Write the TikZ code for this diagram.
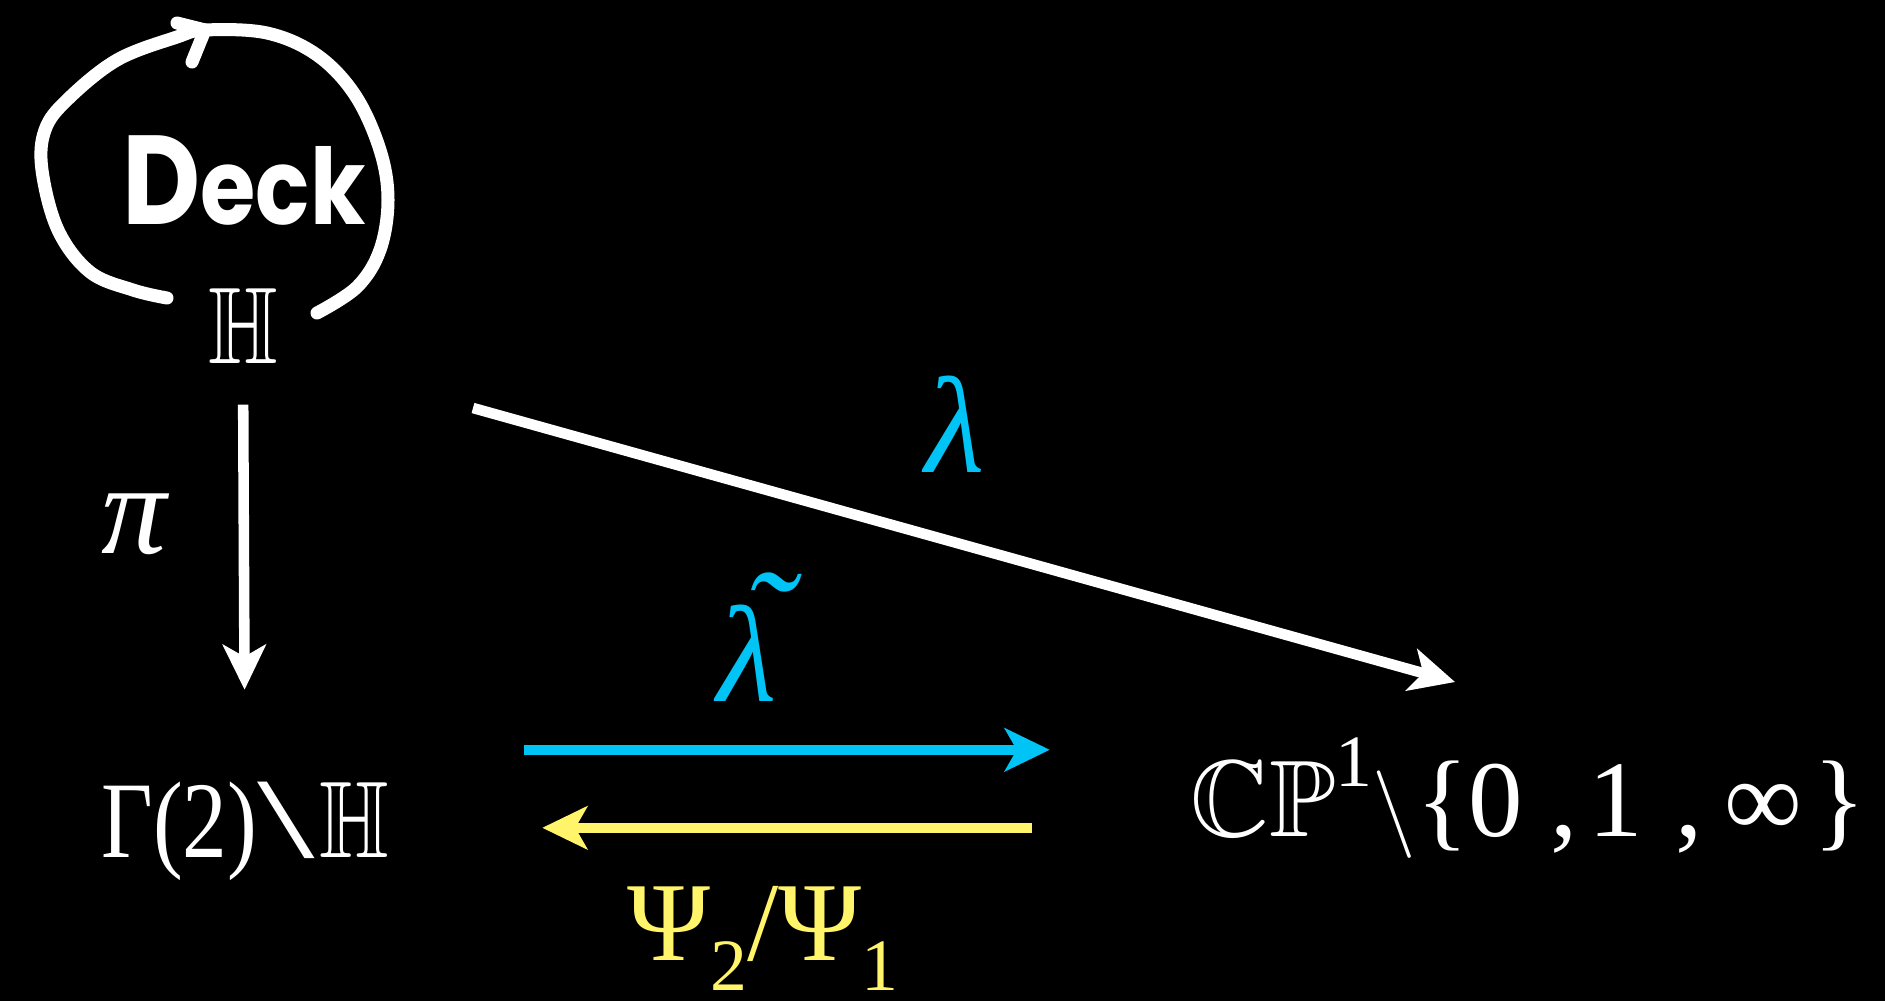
\documentclass[tikz,border=0pt]{standalone}
\usepackage{fontspec}
\usepackage{amssymb}
\usepackage{graphicx}
\setmainfont{Liberation Serif}
\newfontfamily\deckfont{Poppins}
\usetikzlibrary{arrows.meta, calc}

\definecolor{lamcyan}{HTML}{00C4F5}
\definecolor{psiyellow}{HTML}{FFF46A}
\newcommand{\bbH}{\scalebox{0.82}[1]{$\mathbb{H}$}}
\newcommand{\tlam}{\ooalign{λ\cr\hidewidth\kern0.3em\raisebox{0.2em}{\scalebox{1.1}{˜}}\hidewidth\cr}}
\newcommand{\smalldigit}[1]{\raisebox{-0.26em}{\fontsize{21}{21}\selectfont #1}}

\begin{document}
\begin{tikzpicture}[
    space/.style={inner sep=0pt, anchor=base, text=white, font=\fontsize{31}{31}\selectfont},
    maplabel/.style={inner sep=0pt, anchor=base, font=\fontsize{32}{32}\selectfont},
    greeklabel/.style={maplabel, font=\fontsize{39}{39}\selectfont\itshape},
    arrow/.style={-{Stealth[length=4.5mm, width=4.3mm, inset=1.2mm]}, line width=3pt},
    loop/.style={white, line width=3.7pt, line cap=round, line join=round}
]
    % Background
    \fill[black] (0,0) rectangle (18.85,-10.01);
    \useasboundingbox (0,0) rectangle (18.85,-10.01);

    % Spaces
    \node[space] (hyp) at (2.43,-3.63) {\bbH};
    \node[space] (quot) at (2.45,-8.57) {\scalebox{0.82}[1]{Γ(2)}\scalebox{1.9}[1.05]{\textbackslash}\kern0.04em\bbH};
    \node[space] (cp) at (15.28,-8.36) {$\mathbb{C}\mathbb{P}$\raisebox{0.45em}{\fontsize{21}{21}\selectfont 1}$\backslash$\{0\hspace{0.25em},\hspace{0.1em}1\hspace{0.3em},\hspace{0.2em}∞\hspace{0.1em}\}};

    % Deck action
    \node[text=white, font=\deckfont\bfseries] (deck) at (2.44,-1.80) {\scalebox{0.85}[1]{{\fontsize{36}{36}\selectfont D}{\fontsize{30}{30}\selectfont eck}}};
    \draw[loop] plot[smooth, tension=0.6] coordinates {(1.67,-2.98) (1.33,-2.90) (0.90,-2.72) (0.58,-2.30) (0.42,-1.70) (0.45,-1.30) (0.67,-1.00) (1.17,-0.60) (1.77,-0.37) (2.05,-0.30) (2.67,-0.33) (3.17,-0.55) (3.55,-0.95) (3.80,-1.50) (3.88,-2.00) (3.80,-2.50) (3.57,-2.87) (3.17,-3.13)};
    \draw[loop] (1.77,-0.23) -- (2.05,-0.30) -- (1.92,-0.62);

    % Maps
    \coordinate (lamS) at (4.73,-4.08);
    \coordinate (lamE) at (14.55,-6.82);

    \draw[arrow, white, shorten <=4.1mm, shorten >=9.1mm] (hyp.south) -- node[greeklabel, pos=0.455, xshift=-11mm, text=white, font=\fontsize{37}{37}\selectfont\itshape] {π} (quot.north);
    \draw[arrow, white] (lamS) -- node[greeklabel, pos=0.491, yshift=7mm, text=lamcyan] {λ} (lamE);

    \draw[arrow, lamcyan, shorten <=1.35cm, shorten >=1.40cm] ($(quot.east)+(0,0.81)$) -- node[greeklabel, pos=0.447, yshift=4.8mm, text=lamcyan] {\tlam} ($(quot.east -| cp.west)+(0,0.81)$);
    \draw[arrow, psiyellow, shorten <=1.58cm, shorten >=1.53cm] ($(quot.east -| cp.west)+(0,0.03)$) -- node[maplabel, pos=0.533, yshift=-13.3mm, text=psiyellow] {Ψ\smalldigit{2}/Ψ\smalldigit{1}} ($(quot.east)+(0,0.03)$);
\end{tikzpicture}
\end{document}
